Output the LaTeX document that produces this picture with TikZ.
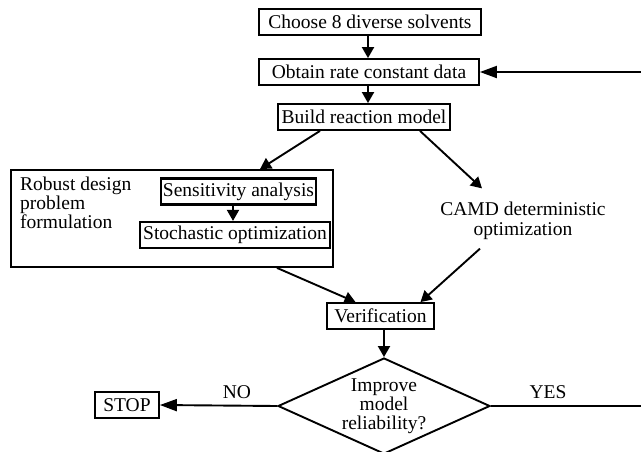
\documentclass[tikz,border=0pt]{standalone}
\usepackage{fontspec}
\setmainfont{Liberation Serif}
\usetikzlibrary{shapes.geometric,arrows.meta}
\begin{document}
\begin{tikzpicture}[x=1pt,y=-1pt,
  every node/.style={font=\fontsize{19.5}{19}\selectfont},
  box/.style={draw, line width=1.8pt, minimum height=26pt, inner sep=0pt},
  arr/.style={line width=1.9pt, -{Triangle[length=11pt,width=12pt]}},
  harr/.style={line width=1.9pt, -{Triangle[length=17pt,width=12pt]}},
  ln/.style={line width=1.9pt}]
\useasboundingbox (0,0) rectangle (641,451);
\node[box, minimum width=222pt] (choose) at (370,22) {Choose 8 diverse solvents};
\node[box, minimum width=220pt] (obtain) at (369,72) {Obtain rate constant data};
\node[box, minimum width=172pt] (build) at (364,117) {Build reaction model};
\node[draw, line width=1.8pt, minimum width=322pt, minimum height=97pt, inner sep=0pt] (robust) at (172,218.5) {};
\node[align=left, anchor=north west, inner sep=0pt] (rtext) at (20,177) {Robust design\\problem\\formulation};
\node[box, minimum width=155pt, line width=2.2pt] (sens) at (238.5,191.5) {Sensitivity analysis};
\node[box, minimum width=190pt, line width=2.2pt] (stoch) at (235,235) {Stochastic optimization};
\node[align=center, font=\fontsize{19.5}{20.5}\selectfont] (camd) at (523,221) {CAMD deterministic\\optimization};
\node[box, minimum width=107pt] (verif) at (380.5,316) {Verification};
\node[draw, diamond, ln, aspect=2.2, minimum width=212pt, minimum height=96pt, inner sep=0pt, align=center] (dia) at (384,406) {Improve\\model\\reliability?};
\node[box, minimum width=64pt] (stop) at (127,405) {STOP};
\node (no) at (237,392) {NO};
\node (yes) at (548,392) {YES};
\coordinate (fb) at (641,72);
\coordinate (yesend) at (641,406);
\draw[arr] (choose.south -| 368,0) -- (obtain.north -| 368,0);
\draw[arr] (obtain.south -| 368,0) -- (build.north -| 368,0);
\draw[harr] (fb) -- (obtain.east);
\draw[arr] ([xshift=-44pt]build.south) -- ([xshift=88pt]robust.north);
\draw[arr] ([xshift=56pt]build.south) -- ([xshift=-41pt,yshift=10pt]camd.north);
\draw[arr] ([xshift=-43pt,yshift=-5pt]camd.south) -- ([xshift=40pt]verif.north);
\draw[arr] ([xshift=105pt]robust.south) -- ([xshift=-25pt]verif.north);
\draw[arr] ([xshift=-5.5pt]sens.south) -- ([xshift=-2pt]stoch.north);
\draw[arr] (verif.south -| dia.north) -- (dia.north);
\draw[harr] (dia.west) -- (stop.east);
\draw[ln] (dia.east) -- (yesend);
\end{tikzpicture}
\end{document}
